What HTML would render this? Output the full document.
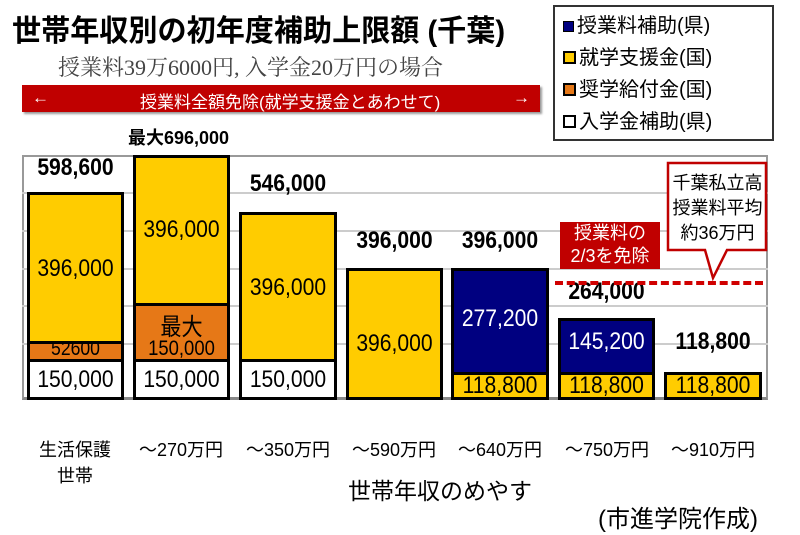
<!DOCTYPE html>
<html><head><meta charset="utf-8"><style>
body{margin:0;width:800px;height:535px;background:#fff;font-family:"Liberation Sans","Noto Sans CJK JP",sans-serif;position:relative;overflow:hidden}
.a{position:absolute;white-space:nowrap}
.b{position:absolute;border:3px solid #000;box-sizing:border-box}
.v{position:absolute;font-size:24px;text-align:center;white-space:nowrap;transform:scaleX(0.88)}
.x{position:absolute;top:436px;font-size:18px;width:104px;text-align:center}
.g{position:absolute;left:22px;width:746px;height:2px;background:#ccc}
</style></head><body>
<div class="a" style="left:12px;top:6px;font-size:30px;font-weight:bold;transform:scaleX(0.97);transform-origin:left">世帯年収別の初年度補助上限額 (千葉)</div>
<div class="a" style="left:58px;top:51px;font-size:22px;color:#444;font-family:'Liberation Serif','Noto Serif CJK SC',serif">授業料39万6000円, 入学金20万円の場合</div>
<div class="a" style="left:22px;top:85px;width:518px;height:27px;background:#c00000;color:#fff;font-size:17px;box-shadow:2px 2px 2px #999">
<span style="position:absolute;left:10px;top:3px">←</span><span style="position:absolute;left:118px;top:3px">授業料全額免除(就学支援金とあわせて)</span><span style="position:absolute;right:10px;top:3px">→</span></div>
<div class="a" style="left:553px;top:5px;width:221px;height:136px;border:2px solid #333;box-sizing:border-box;font-size:20px;line-height:32px;padding:3px 0 0 8px">
<div><span style="display:inline-block;width:9px;height:9px;background:#000080;border:1px solid #000;margin-right:3px"></span>授業料補助(県)</div>
<div><span style="display:inline-block;width:9px;height:9px;background:#ffcc00;border:2px solid #000;margin-right:3px"></span>就学支援金(国)</div>
<div><span style="display:inline-block;width:9px;height:9px;background:#e67817;border:2px solid #000;margin-right:3px"></span>奨学給付金(国)</div>
<div><span style="display:inline-block;width:9px;height:9px;background:#fff;border:2px solid #000;margin-right:3px"></span>入学金補助(県)</div></div>
<div class="a" style="left:128px;top:124px;font-size:18px;font-weight:bold">最大696,000</div>
<div class="a" style="left:22px;top:155px;width:746px;height:245px;border:2px solid #999;border-bottom:3px solid #888;box-sizing:border-box"></div>
<div class="g" style="top:192px"></div><div class="g" style="top:230px"></div><div class="g" style="top:268px"></div><div class="g" style="top:305px"></div><div class="g" style="top:343px"></div>
<div class="b" style="left:27px;top:192px;width:97px;height:152px;background:#ffcc00"></div>
<div class="b" style="left:27px;top:341px;width:97px;height:21px;background:#e67817"></div>
<div class="b" style="left:27px;top:359px;width:97px;height:41px;background:#fff"></div>
<div class="b" style="left:133px;top:155px;width:97px;height:151px;background:#ffcc00"></div>
<div class="b" style="left:133px;top:303px;width:97px;height:59px;background:#e67817"></div>
<div class="b" style="left:133px;top:359px;width:97px;height:41px;background:#fff"></div>
<div class="b" style="left:239px;top:212px;width:98px;height:150px;background:#ffcc00"></div>
<div class="b" style="left:239px;top:359px;width:98px;height:41px;background:#fff"></div>
<div class="b" style="left:346px;top:268px;width:97px;height:132px;background:#ffcc00"></div>
<div class="b" style="left:451px;top:268px;width:98px;height:107px;background:#000080"></div>
<div class="b" style="left:451px;top:372px;width:98px;height:28px;background:#ffcc00"></div>
<div class="b" style="left:558px;top:318px;width:97px;height:57px;background:#000080"></div>
<div class="b" style="left:558px;top:372px;width:97px;height:28px;background:#ffcc00"></div>
<div class="b" style="left:664px;top:372px;width:98px;height:28px;background:#ffcc00"></div>
<div class="v" style="left:27px;top:154px;width:97px;font-weight:bold">598,600</div>
<div class="v" style="left:27px;top:255px;width:97px">396,000</div>
<div class="v" style="left:27px;top:338px;width:97px;font-size:20px">52600</div>
<div class="v" style="left:27px;top:366px;width:97px">150,000</div>
<div class="v" style="left:133px;top:216px;width:97px">396,000</div>
<div class="v" style="left:133px;top:307px;width:97px">最大</div>
<div class="v" style="left:133px;top:337px;width:97px;font-size:21px">150,000</div>
<div class="v" style="left:133px;top:366px;width:97px">150,000</div>
<div class="v" style="left:239px;top:170px;width:98px;font-weight:bold">546,000</div>
<div class="v" style="left:239px;top:274px;width:98px">396,000</div>
<div class="v" style="left:239px;top:366px;width:98px">150,000</div>
<div class="v" style="left:346px;top:227px;width:97px;font-weight:bold">396,000</div>
<div class="v" style="left:346px;top:330px;width:97px">396,000</div>
<div class="v" style="left:451px;top:227px;width:98px;font-weight:bold">396,000</div>
<div class="v" style="left:451px;top:305px;width:98px;color:#fff">277,200</div>
<div class="v" style="left:451px;top:372px;width:98px">118,800</div>
<div class="v" style="left:558px;top:278px;width:97px;font-weight:bold">264,000</div>
<div class="v" style="left:558px;top:328px;width:97px;color:#fff">145,200</div>
<div class="v" style="left:558px;top:372px;width:97px">118,800</div>
<div class="v" style="left:664px;top:328px;width:98px;font-weight:bold">118,800</div>
<div class="v" style="left:664px;top:372px;width:98px">118,800</div>
<div class="a" style="left:555px;top:281px;width:208px;border-top:4px dashed #d00000"></div>
<div class="a" style="left:560px;top:222px;width:100px;height:47px;background:#c00000;color:#fff;font-size:18px;text-align:center;line-height:23px">授業料の<br>2/3を免除</div>
<svg class="a" style="left:665px;top:160px" width="105" height="125"><polygon points="3,3 101,3 101,90 62,90 48,118 40,90 3,90" fill="#fff" stroke="#c00000" stroke-width="2.5"/></svg>
<div class="a" style="left:670px;top:171px;width:95px;text-align:center;font-size:18px;line-height:25px">千葉私立高<br>授業料平均<br>約36万円</div>
<div class="x" style="left:23px">生活保護<br><span style="line-height:28px">世帯</span></div>
<div class="x" style="left:129px">～270万円</div>
<div class="x" style="left:236px">～350万円</div>
<div class="x" style="left:342px">～590万円</div>
<div class="x" style="left:448px">～640万円</div>
<div class="x" style="left:555px">～750万円</div>
<div class="x" style="left:661px">～910万円</div>
<div class="a" style="left:348px;top:472px;font-size:23px">世帯年収のめやす</div>
<div class="a" style="left:598px;top:499px;font-size:24px">(市進学院作成)</div>
</body></html>
